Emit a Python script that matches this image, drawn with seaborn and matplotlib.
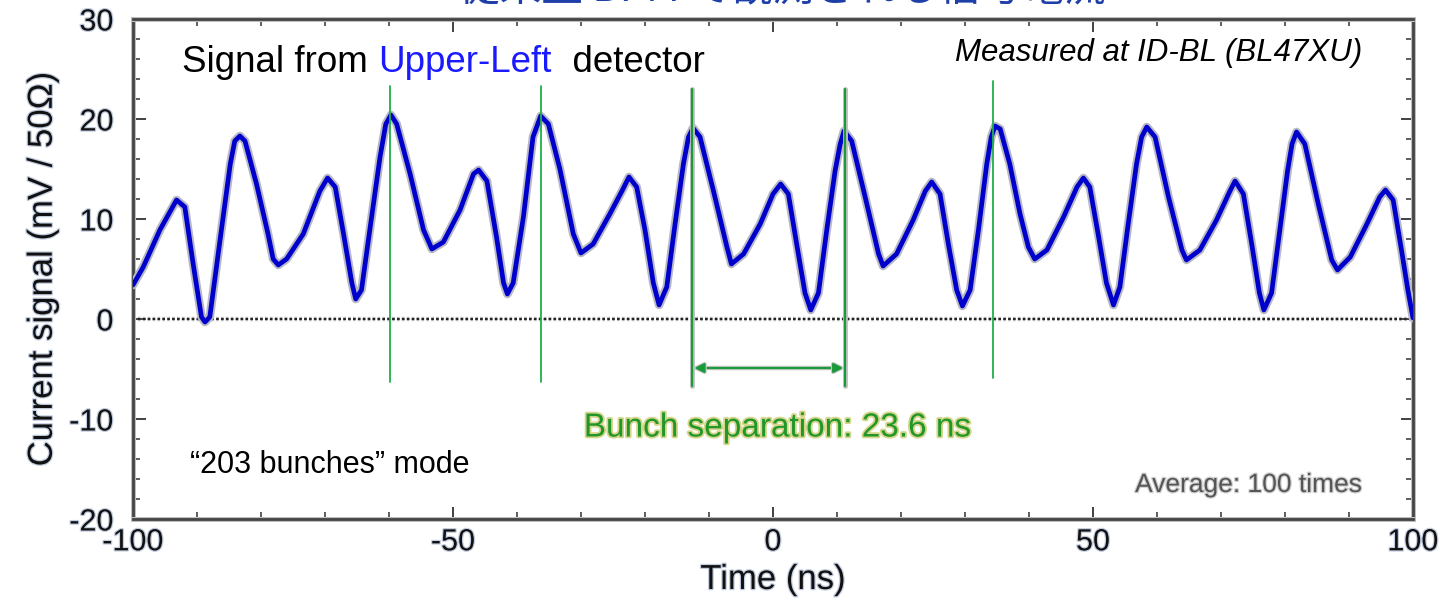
import numpy as np
import pandas as pd
import matplotlib
matplotlib.use("Agg")
import matplotlib.pyplot as plt
import matplotlib.patheffects as pe
from matplotlib.ticker import MultipleLocator
import seaborn as sns

# ---- data ----
time_ns = [-100.0, -98.4, -95.8, -93.2, -91.9, -90.6, -89.3, -88.75, -88.0, -86.4,
           -84.8, -84.1, -83.3, -82.5, -80.7, -78.9, -78.1, -77.3, -76.0, -73.4,
           -70.8, -69.6, -68.4, -67.1, -65.8, -65.2, -64.3, -63.0, -61.4, -60.5,
           -59.7, -58.8, -56.7, -54.6, -53.3, -51.5, -48.9, -46.8, -46.0, -44.7,
           -43.2, -42.1, -41.5, -40.6, -39.0, -37.5, -36.3, -35.1, -33.3, -31.2,
           -30.0, -28.1, -25.5, -23.6, -22.5, -21.3, -20.0, -18.7, -17.8, -16.6,
           -15.3, -14.0, -13.2, -12.5, -11.4, -9.3, -7.2, -6.5, -4.6, -2.0,
           0.0, 1.2, 2.4, 3.7, 5.0, 5.9, 7.1, 8.4, 9.7, 10.5,
           11.1, 12.3, 14.4, 16.5, 17.2, 19.3, 21.9, 23.8, 24.8, 26.1,
           27.4, 28.7, 29.6, 30.8, 32.1, 33.4, 34.1, 34.7, 35.5, 37.0,
           38.6, 39.9, 40.9, 42.8, 45.4, 47.5, 48.5, 49.5, 50.8, 52.1,
           53.2, 54.2, 55.5, 56.8, 57.6, 58.4, 59.7, 61.8, 63.9, 64.6,
           66.7, 69.3, 71.4, 72.2, 73.5, 74.8, 76.0, 76.7, 77.9, 79.2,
           80.4, 81.1, 81.8, 83.1, 85.2, 87.3, 88.2, 90.2, 92.8, 94.8,
           95.7, 96.9, 98.2, 99.2, 100.0]
signal_mv = [3.4, 5.2, 8.9, 11.9, 11.2, 5.5, 0.2, -0.3, 0.2, 7.9,
             15.5, 17.8, 18.3, 17.8, 13.5, 8.5, 6.0, 5.4, 6.0, 8.5,
             12.8, 14.1, 13.2, 8.5, 3.6, 2.0, 2.9, 8.9, 16.2, 19.5,
             20.4, 19.5, 14.5, 8.9, 7.0, 7.7, 10.9, 14.5, 14.9, 13.8,
             8.2, 3.6, 2.5, 3.6, 10.2, 18.2, 20.3, 19.5, 15.0, 8.5,
             6.6, 7.5, 10.5, 12.8, 14.2, 13.2, 8.9, 3.6, 1.4, 3.2,
             9.5, 15.5, 18.2, 19.1, 18.2, 12.8, 7.2, 5.5, 6.5, 9.5,
             12.5, 13.5, 12.5, 7.5, 2.6, 0.9, 2.6, 8.9, 14.8, 17.5,
             18.8, 17.8, 12.2, 6.5, 5.3, 6.5, 9.9, 12.8, 13.7, 12.5,
             7.5, 2.9, 1.3, 2.9, 8.9, 15.5, 18.2, 19.3, 19.0, 15.5,
             10.5, 7.2, 6.0, 6.9, 10.2, 13.2, 14.1, 13.2, 8.5, 3.6,
             1.4, 3.2, 9.5, 15.5, 18.2, 19.2, 18.2, 12.2, 6.9, 5.9,
             6.9, 9.9, 12.8, 13.8, 12.5, 7.5, 2.6, 0.9, 2.6, 8.9,
             14.8, 17.5, 18.7, 17.5, 11.5, 5.9, 4.9, 6.2, 9.5, 12.2,
             12.9, 11.9, 6.9, 2.9, 0.1]

marker_times = [-59.8, -36.3, -12.6, 11.2, 34.4]
marker_top = [23.3, 23.3, 23.0, 23.0, 23.8]
marker_bottom = [-6.3, -6.3, -6.7, -6.7, -5.9]
separation_start, separation_end, separation_level = -12.3, 11.0, -4.9

x_ticks = [-100, -50, 0, 50, 100]
y_ticks = [-20, -10, 0, 10, 20, 30]

title_text = "従来型 BPM で観測される信号電流"

# ---- styling ----
sns.set_theme(style="white")
plt.rcParams['font.family'] = ['Liberation Sans', 'DejaVu Sans']
plt.rcParams['axes.unicode_minus'] = False

fig = plt.figure(figsize=(14.45, 6.03), dpi=100)
ax = fig.add_axes([133 / 1445, 1 - 519 / 603, 1280 / 1445, 500 / 603])

df = pd.DataFrame({"time": time_ns, "signal": signal_mv})

halo = [pe.Stroke(linewidth=6.2, foreground="#b9b9c6"), pe.Normal()]

# zero line
ax.axhline(0, color="#222222", lw=1.6, ls=(0, (1.2, 1.0)),
           path_effects=[pe.Stroke(linewidth=3.2, foreground="#c8c8c8"), pe.Normal()], zorder=2)

# signal
sns.lineplot(data=df, x="time", y="signal", ax=ax, color="#0000cc", lw=3.4,
             sort=False, estimator=None, zorder=4, path_effects=halo)
for ln in ax.get_lines():
    ln.set_solid_joinstyle("round")
    ln.set_solid_capstyle("round")

green = "#1fb04a"
for i, (t, top, bot) in enumerate(zip(marker_times, marker_top, marker_bottom)):
    if i in (2, 3):
        ax.plot([t, t], [bot, top], color="#1a9a3a", lw=1.6, zorder=5,
                path_effects=[pe.Stroke(linewidth=3.5, foreground="#c0c0c0"), pe.Normal()])
    else:
        ax.plot([t, t], [bot, top], color=green, lw=1.3, zorder=5)

ax.annotate("", xy=(separation_start, separation_level), xytext=(separation_end, separation_level),
            arrowprops=dict(arrowstyle="<|-|>", color="#1a9a3a", lw=1.6,
                            mutation_scale=14, shrinkA=0, shrinkB=0,
                            path_effects=[pe.Stroke(linewidth=3.2, foreground="#c8c8c8"), pe.Normal()]),
            zorder=5)

ax.set_xlim(-100, 100)
ax.set_ylim(-20, 30)
ax.set_xticks(x_ticks)
ax.set_yticks(y_ticks)
ax.xaxis.set_minor_locator(MultipleLocator(10))
ax.yaxis.set_minor_locator(MultipleLocator(2))

label_halo = [pe.withStroke(linewidth=1.8, foreground="#c3cde0")]
ax.tick_params(axis="both", which="major", direction="in", length=9, width=1.3,
               colors="#333333", labelcolor="#111111", labelsize=22,
               top=True, right=True, bottom=True, left=True)
ax.tick_params(axis="both", which="minor", direction="in", length=5, width=1.1,
               colors="#333333", top=True, right=True, bottom=True, left=True)
ax.tick_params(axis="y", which="major", pad=14)
ax.tick_params(axis="x", which="major", pad=6)
for lab in ax.get_xticklabels() + ax.get_yticklabels():
    lab.set_path_effects(label_halo)

for sp in ax.spines.values():
    sp.set_color("#444444")
    sp.set_linewidth(2.0)
    sp.set_path_effects([pe.Stroke(linewidth=3.6, foreground="#bdbdbd"), pe.Normal()])

ax.set_xlabel("Time (ns)", fontsize=25, color="#111111")
ax.set_ylabel("Current signal (mV / 50Ω)", fontsize=25, color="#111111")
ax.xaxis.label.set_path_effects(label_halo)
ax.yaxis.label.set_path_effects(label_halo)
ax.xaxis.set_label_coords(0.5, -0.088)
ax.yaxis.set_label_coords(-0.058, 0.5)

# annotations
t1 = ax.text(-92.3, 25.6, "Signal from ", fontsize=26.5, color="black", va="center", ha="left")
t2 = ax.annotate("Upper-Left", xycoords=t1, xy=(1, 0), va="bottom", ha="left",
                 fontsize=26.5, color="#1a1aff")
ax.annotate("  detector", xycoords=t2, xy=(1, 0), va="bottom", ha="left",
            fontsize=26.5, color="black")

ax.text(92.0, 26.6, "Measured at ID-BL (BL47XU)", fontsize=22.5, style="italic",
        ha="right", va="center", color="black")
ax.text(-91.1, -14.6, "“203 bunches” mode", fontsize=22, ha="left", va="center", color="black")
ax.text(92.0, -16.6, "Average: 100 times", fontsize=19, ha="right", va="center", color="#555555",
        path_effects=[pe.withStroke(linewidth=1.8, foreground="#d0d0d0")])
ax.text(0.7, -10.9, "Bunch separation: 23.6 ns", fontsize=24, ha="center", va="center",
        color="#21962b", path_effects=[pe.withStroke(linewidth=2.6, foreground="#d6d68a")])

# title (mostly cropped at the top edge, as in the reference)
fig.text(0.541, 1 - 0.5 / 603, title_text, fontsize=30, color="#1f3fa8",
         ha="center", va="baseline",
         family=["Noto Sans CJK JP", "DejaVu Sans"])

fig.savefig("out.png", dpi=100)
